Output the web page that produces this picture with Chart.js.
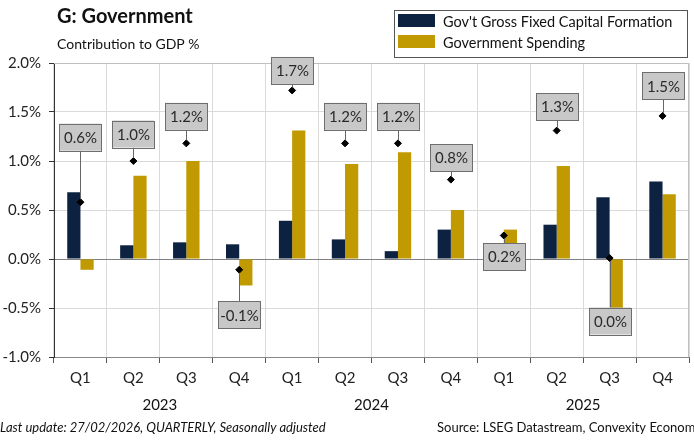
<!DOCTYPE html>
<html>
<head>
<meta charset="utf-8">
<script src="https://cdn.jsdelivr.net/npm/chart.js@4/dist/chart.umd.min.js"></script>
<style>
  body { margin: 0; background: #fff; }
  #wrap { width: 694px; height: 445px; }
</style>
</head>
<body>
<div id="wrap"><canvas id="gov" width="694" height="445"></canvas></div>
<script>
// data
const quarters = ['Q1', 'Q2', 'Q3', 'Q4', 'Q1', 'Q2', 'Q3', 'Q4', 'Q1', 'Q2', 'Q3', 'Q4'];
const years = ['2023', '2024', '2025'];
const capitalFormation = [0.68, 0.14, 0.17, 0.15, 0.39, 0.20, 0.08, 0.30, -0.06, 0.35, 0.63, 0.79];
const govSpending = [-0.11, 0.85, 1.00, -0.27, 1.31, 0.97, 1.09, 0.50, 0.30, 0.95, -0.62, 0.66];
const totalContribution = [0.58, 1.00, 1.18, -0.11, 1.72, 1.18, 1.18, 0.81, 0.24, 1.31, 0.01, 1.46];
const yTicks = [-1, -0.5, 0, 0.5, 1, 1.5, 2];

// where each total label box sits relative to its point (px, minus = above)
const labelOffsets = [-65, -27, -27, 45, -20, -27, -27, -22, 21, -24, 63, -30];

const NAVY = '#0d2240', GOLD = '#c09a00';
const FONT = 'Lato, "Open Sans", sans-serif';
Chart.defaults.font.family = FONT;
Chart.defaults.color = '#222';

const pct = v => (Math.round(v * 10) / 10).toFixed(1) + '%';

const decorations = {
  id: 'decorations',
  beforeDatasetsDraw(chart) {
    const {ctx, chartArea: a} = chart;
    ctx.save();
    ctx.strokeStyle = '#bfbfbf'; ctx.lineWidth = 1;
    ctx.beginPath();
    ctx.moveTo(a.left, a.top + 0.5); ctx.lineTo(a.right - 0.5, a.top + 0.5); ctx.lineTo(a.right - 0.5, a.bottom);
    ctx.stroke();
    ctx.restore();
  },
  afterDatasetsDraw(chart) {
    const {ctx, scales: {x, y}} = chart;
    ctx.save();
    ctx.font = '15px ' + FONT;
    ctx.textAlign = 'center'; ctx.textBaseline = 'middle';
    totalContribution.forEach((v, i) => {
      const px = Math.round(x.getPixelForValue(i)), py = y.getPixelForValue(v);
      const off = labelOffsets[i], cy = py + off, w = 42, h = 27;
      const edge = off < 0 ? cy + h / 2 : cy - h / 2;
      ctx.strokeStyle = '#666'; ctx.lineWidth = 1;
      ctx.beginPath(); ctx.moveTo(px + 0.5, edge); ctx.lineTo(px + 0.5, off < 0 ? py - 3 : py + 3); ctx.stroke();
      ctx.fillStyle = '#c8c8c8';
      ctx.fillRect(px - w / 2, cy - h / 2, w, h);
      ctx.strokeStyle = '#6e6e6e';
      ctx.strokeRect(px - w / 2 + 0.5, Math.round(cy - h / 2) + 0.5, w, h);
      ctx.fillStyle = '#2a2a2a';
      ctx.fillText(pct(v), px + 0.5, cy + 1);
    });
    ctx.restore();
  },
  afterDraw(chart) {
    const {ctx, scales: {x}} = chart;
    ctx.save();
    ctx.fillStyle = '#111'; ctx.textBaseline = 'middle'; ctx.textAlign = 'left';
    ctx.font = 'bold 20px ' + FONT;
    ctx.fillText('G: Government', 57, 17);
    ctx.font = '14px ' + FONT;
    ctx.fillText('Contribution to GDP %', 57, 44);

    // legend
    ctx.strokeStyle = '#555'; ctx.lineWidth = 1;
    ctx.strokeRect(394.5, 10.5, 293, 47);
    ctx.fillStyle = NAVY; ctx.fillRect(398, 14, 37, 13);
    ctx.fillStyle = GOLD; ctx.fillRect(398, 35, 37, 13);
    ctx.fillStyle = '#111'; ctx.font = '14.5px ' + FONT;
    ctx.fillText("Gov't Gross Fixed Capital Formation", 443, 22);
    ctx.fillText('Government Spending', 443, 43);

    // year group labels
    ctx.textAlign = 'center'; ctx.font = '15px ' + FONT;
    years.forEach((yr, k) => {
      const cx = (x.getPixelForValue(4 * k) + x.getPixelForValue(4 * k + 3)) / 2;
      ctx.fillText(yr, cx, 405);
    });

    // footer
    ctx.textAlign = 'left';
    ctx.font = 'italic 13px ' + FONT;
    ctx.fillText('Last update: 27/02/2026, QUARTERLY, Seasonally adjusted', 0, 428);
    ctx.font = '13px ' + FONT;
    ctx.fillText('Source: LSEG Datastream, Convexity Economics', 437, 428);
    ctx.restore();
  }
};

new Chart(document.getElementById('gov'), {
  data: {
    labels: quarters,
    datasets: [
      {type: 'scatter', label: 'Total', data: totalContribution.map((v, i) => ({x: i, y: v})),
       pointStyle: 'rectRot', pointRadius: 3.5, backgroundColor: '#000', borderColor: '#000', order: 0},
      {type: 'bar', label: "Gov't Gross Fixed Capital Formation", data: capitalFormation,
       backgroundColor: NAVY, categoryPercentage: 0.5, barPercentage: 1.0, order: 1},
      {type: 'bar', label: 'Government Spending', data: govSpending,
       backgroundColor: GOLD, categoryPercentage: 0.5, barPercentage: 1.0, order: 1}
    ]
  },
  options: {
    responsive: false, animation: false,
    layout: {padding: {top: 63, right: 2, left: 0, bottom: 0}},
    plugins: {legend: {display: false}, tooltip: {enabled: false}},
    scales: {
      x: {
        type: 'category', offset: true,
        grid: {offset: true, color: '#dadada', tickColor: '#555', tickLength: 6},
        border: {color: '#888'},
        ticks: {font: {size: 15}, color: '#222', padding: 6},
        afterFit: s => { s.height = 88; }
      },
      y: {
        min: -1, max: 2,
        afterBuildTicks: s => { s.ticks = yTicks.map(v => ({value: v})); },
        grid: {color: c => c.tick && c.tick.value === 0 ? '#808080' : '#dadada', tickColor: '#333', tickLength: 5},
        border: {color: '#333'},
        ticks: {font: {size: 15}, color: '#222', padding: 8, callback: v => v.toFixed(1) + '%'},
        afterFit: s => { s.width = 54; }
      }
    }
  },
  plugins: [decorations]
});
</script>
</body>
</html>
